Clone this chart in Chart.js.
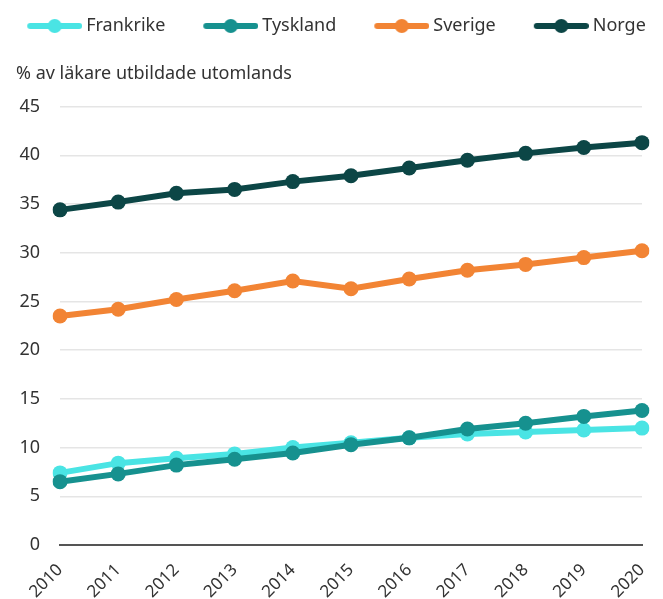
<!DOCTYPE html>
<html>
<head>
<meta charset="utf-8">
<script src="https://cdn.jsdelivr.net/npm/chart.js@4"></script>
<style>
  html, body { margin: 0; padding: 0; background: #fff; }
  #wrap { width: 663px; height: 599px; }
</style>
</head>
<body>
<div id="wrap"><canvas id="chart"></canvas></div>
<script>
const years = ['2010','2011','2012','2013','2014','2015','2016','2017','2018','2019','2020'];
const frankrike = [7.4, 8.4, 8.9, 9.35, 10.0, 10.5, 11.0, 11.4, 11.6, 11.8, 12.0];
const tyskland  = [6.5, 7.3, 8.2, 8.8, 9.45, 10.3, 11.0, 11.9, 12.5, 13.2, 13.8];
const sverige   = [23.5, 24.2, 25.2, 26.1, 27.1, 26.3, 27.3, 28.2, 28.8, 29.5, 30.2];
const norge     = [34.4, 35.2, 36.1, 36.5, 37.3, 37.9, 38.7, 39.5, 40.2, 40.8, 41.3];
const seriesNames = ['Frankrike', 'Tyskland', 'Sverige', 'Norge'];
const colors = ['#4ae4e4', '#16918f', '#f28434', '#0c4646'];

const FONT = "'Noto Sans', sans-serif";

// legend icon: line with a dot, drawn into a canvas used as pointStyle
const GAP = 36;            // empty space before each icon
const BOXW = GAP + 50;     // legend box width (text starts at BOXW + 9)
function legendIcon(color) {
  const c = document.createElement('canvas');
  c.width = BOXW + 10; c.height = 16;
  const g = c.getContext('2d');
  const x0 = GAP + 5, x1 = GAP + 60;
  g.strokeStyle = color; g.lineWidth = 6; g.lineCap = 'round';
  g.beginPath(); g.moveTo(x0 + 3, 8); g.lineTo(x1 - 3, 8); g.stroke();
  g.fillStyle = color;
  g.beginPath(); g.arc((x0 + x1) / 2, 8, 7, 0, Math.PI * 2); g.fill();
  return c;
}
const icons = colors.map(legendIcon);

const makeSet = (label, data, color, order) => ({
  label, data, order,
  borderColor: color, backgroundColor: color,
  borderWidth: 6, pointRadius: 7.5, pointHoverRadius: 7.5,
  pointBorderWidth: 0, tension: 0
});

// nudge the legend left and the axis caption (chart title) in from the edge
const nudge = {
  id: 'nudge',
  afterLayout(chart) {
    if (chart.titleBlock) chart.titleBlock.left += 16;
    if (chart.legend) { chart.legend.left -= 13; chart.legend.right -= 13; }
  }
};

new Chart(document.getElementById('chart'), {
  type: 'line',
  data: {
    labels: years,
    datasets: [
      makeSet(seriesNames[0], frankrike, colors[0], 1), // drawn under Tyskland
      makeSet(seriesNames[1], tyskland, colors[1], 0),
      makeSet(seriesNames[2], sverige, colors[2], 0),
      makeSet(seriesNames[3], norge, colors[3], 0)
    ]
  },
  plugins: [nudge],
  options: {
    responsive: true,
    maintainAspectRatio: false,
    animation: false,
    layout: { padding: { top: 15, right: 0, left: 0, bottom: 0 } },
    plugins: {
      tooltip: { enabled: false },
      legend: {
        position: 'top',
        weight: 3000,
        labels: {
          usePointStyle: true,
          pointStyleWidth: BOXW,
          padding: 2,
          color: '#333',
          font: { family: FONT, size: 18 },
          generateLabels(chart) {
            const items = Chart.defaults.plugins.legend.labels.generateLabels(chart);
            items.sort((a, b) => a.datasetIndex - b.datasetIndex);
            items.forEach(it => { it.pointStyle = icons[it.datasetIndex]; });
            return items;
          }
        }
      },
      title: {
        display: true,
        text: '% av läkare utbildade utomlands',
        align: 'start',
        color: '#333',
        font: { family: FONT, size: 18, weight: 'normal' },
        padding: { top: 18, bottom: 22 }
      }
    },
    scales: {
      x: {
        offset: false,
        grid: { display: false, drawTicks: false },
        border: { display: true, color: '#555', width: 2 },
        ticks: {
          color: '#333',
          font: { family: FONT, size: 17 },
          maxRotation: 45, minRotation: 45,
          padding: 15
        },
        afterFit(scale) { scale.height = 54; scale.paddingRight = 21; }
      },
      y: {
        min: 0, max: 45,
        grid: { color: '#e5e5e5', lineWidth: 1.5, drawTicks: false },
        border: { display: false },
        ticks: {
          stepSize: 5,
          color: '#333',
          font: { family: FONT, size: 18 },
          padding: 20
        },
        afterFit(scale) { scale.width = 60; }
      }
    }
  }
});
</script>
</body>
</html>
